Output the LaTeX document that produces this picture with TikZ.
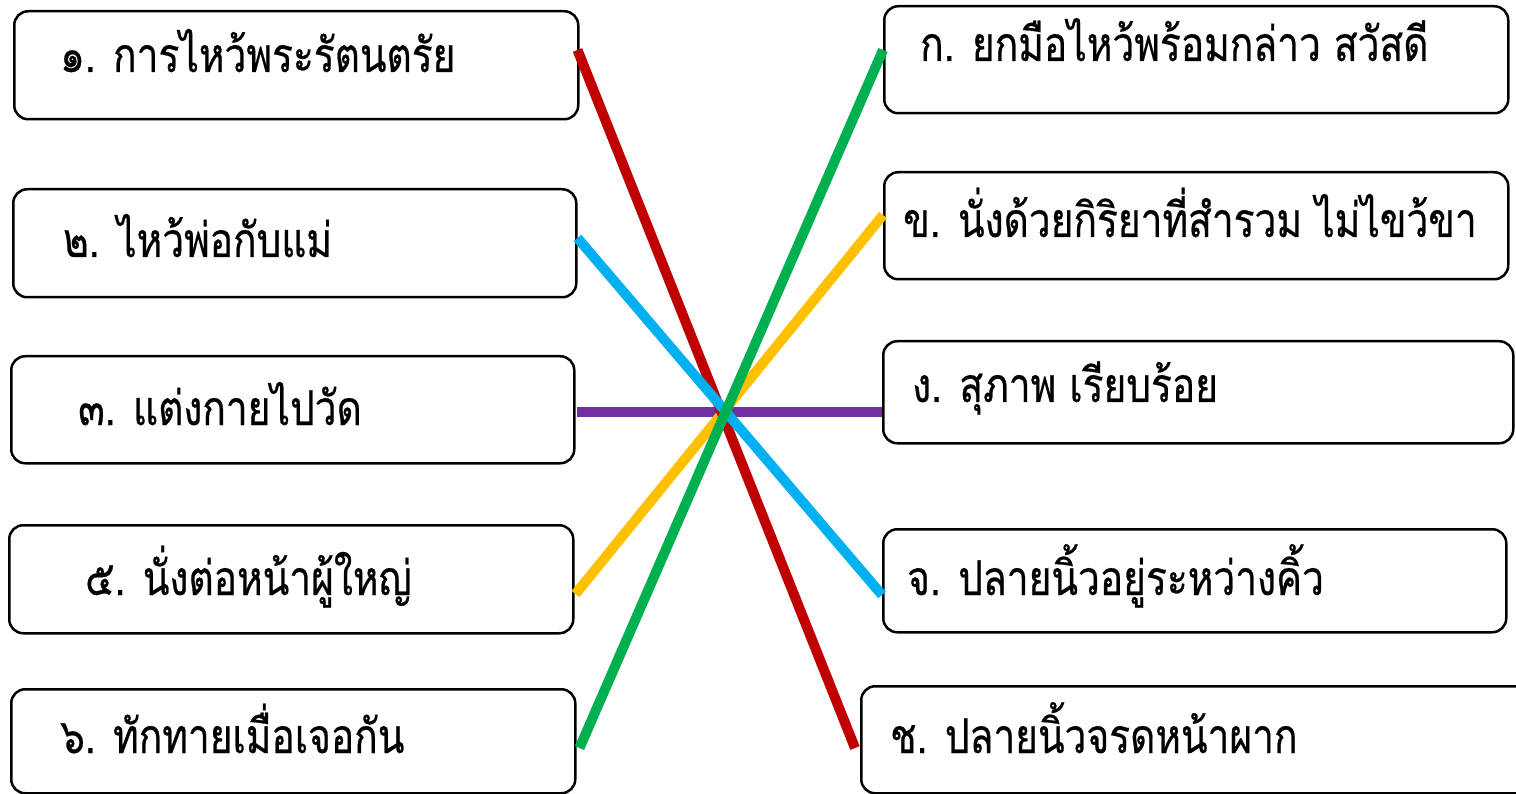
\documentclass[tikz,border=0pt]{standalone}
\usepackage{fontspec}
\newfontfamily\thaifont[Script=Thai,FakeStretch=0.81,FakeBold=0.5]{Loma}
\definecolor{cred}{RGB}{192,0,0}
\definecolor{cblue}{RGB}{0,176,240}
\definecolor{cpurple}{RGB}{112,48,160}
\definecolor{cyellow}{RGB}{255,192,0}
\definecolor{cgreen}{RGB}{0,176,80}
\tikzset{
  box/.style={draw=black, line width=2.5pt, rounded corners=14pt, fill=white, anchor=north west, inner sep=0pt},
  lbl/.style={anchor=base west, inner sep=0pt, font=\thaifont\fontsize{48}{52}\selectfont},
  link/.style={line width=10pt}
}
\begin{document}
\begin{tikzpicture}[x=1pt,y=-1pt]
\useasboundingbox (0,0) rectangle (1516,794);
% left boxes
\node[box, minimum width=564pt, minimum height=108pt] (l1) at (13,10) {};
\node[box, minimum width=563pt, minimum height=108pt] (l2) at (12,188) {};
\node[box, minimum width=563pt, minimum height=107pt] (l3) at (10,355) {};
\node[box, minimum width=564pt, minimum height=108pt] (l5) at (8,524) {};
\node[box, minimum width=564pt, minimum height=104pt] (l6) at (10,688) {};
% right boxes
\node[box, minimum width=624pt, minimum height=107pt] (r1) at (883,5) {};
\node[box, minimum width=624pt, minimum height=107pt] (r2) at (883,171) {};
\node[box, minimum width=630pt, minimum height=102pt] (r3) at (882,340) {};
\node[box, minimum width=623pt, minimum height=103pt] (r4) at (882,528) {};
\node[box, minimum width=680pt, minimum height=107pt] (r5) at (860,685) {};
% texts
\node[lbl] (t1) at (60,72) {๑. การไหว้พระรัตนตรัย};
\node[lbl] (t2) at (63,257) {๒. ไหว้พ่อกับแม่};
\node[lbl] (t3) at (78,425) {๓. แต่งกายไปวัด};
\node[lbl] (t5) at (85,595) {๕. นั่งต่อหน้าผู้ใหญ่};
\node[lbl] (t6) at (60,753) {๖. ทักทายเมื่อเจอกัน};
\node[lbl] (u1) at (920,61) {ก. ยกมือไหว้พร้อมกล่าว สวัสดี};
\node[lbl] (u2) at (903,237) {ข. นั่งด้วยกิริยาที่สำรวม ไม่ไขว้ขา};
\node[lbl] (u3) at (912,402) {ง. สุภาพ เรียบร้อย};
\node[lbl] (u4) at (907,595) {จ. ปลายนิ้วอยู่ระหว่างคิ้ว};
\node[lbl] (u5) at (890,753) {ช. ปลายนิ้วจรดหน้าผาก};
% connectors
\draw[link, cpurple] ([xshift=1pt]l3.east |- 0,412) -- (r3.west |- 0,412);
\draw[link, cyellow] ([xshift=1pt]l5.east |- 0,594) -- (r2.west |- 0,215);
\draw[link, cred] ([xshift=-2pt]l1.east |- 0,50) -- ([xshift=-5pt]r5.west |- 0,748);
\draw[link, cblue] (l2.east |- 0,238) -- (r4.west |- 0,595);
\draw[link, cgreen] ([xshift=3pt]l6.east |- 0,748) -- (r1.west |- 0,50);
\end{tikzpicture}
\end{document}
